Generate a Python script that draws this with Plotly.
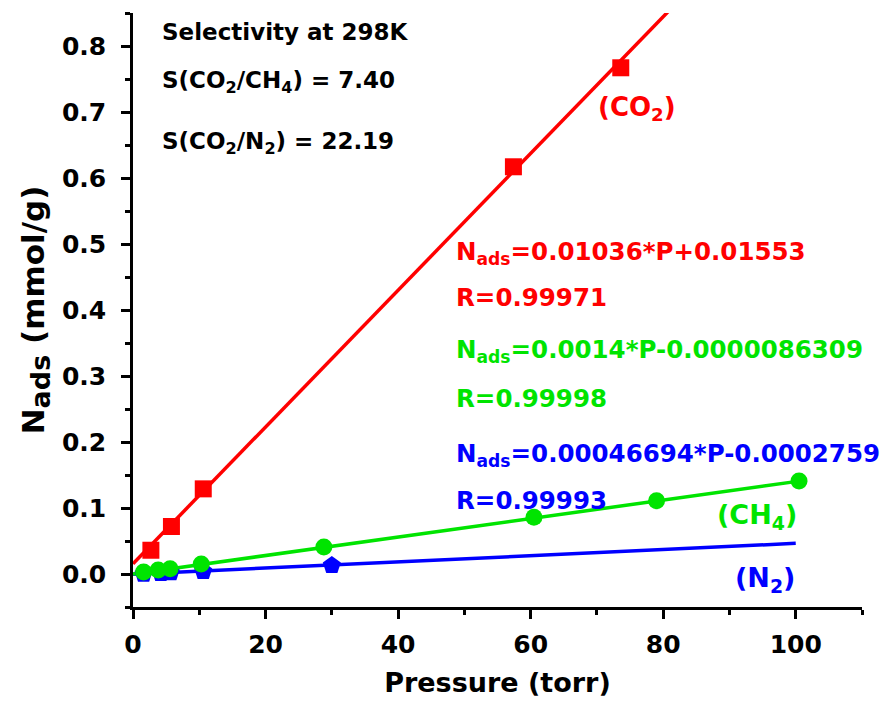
import plotly.graph_objects as go

# Data
co2_p = [2.7, 5.8, 10.6, 57.4, 73.6]
co2_n = [0.036, 0.072, 0.129, 0.617, 0.767]
ch4_p = [1.6, 3.8, 5.6, 10.3, 28.8, 60.5, 79.0, 100.5]
ch4_n = [0.003, 0.006, 0.008, 0.015, 0.041, 0.086, 0.111, 0.141]
n2_p = [1.6, 4.2, 5.7, 10.6, 30.0]
n2_n = [0.000, 0.001, 0.002, 0.004, 0.013]

fit_co2 = (0.01036, 0.01553)
fit_ch4 = (0.0014, -0.0000086309)
fit_n2 = (0.00046694, -0.0002759)

x_ticks = [0, 20, 40, 60, 80, 100]
y_ticks = [0.0, 0.1, 0.2, 0.3, 0.4, 0.5, 0.6, 0.7, 0.8]

RED = "#ff0000"
GREEN = "#00e400"
BLUE = "#0000ff"
FONT = "DejaVu Sans, Liberation Sans, Arial, sans-serif"

fig = go.Figure()

def line(fit, color, xs):
    fig.add_trace(go.Scatter(x=xs, y=[fit[0] * x + fit[1] for x in xs], mode="lines",
                             line=dict(color=color, width=3.5), showlegend=False,
                             hoverinfo="skip", cliponaxis=True))

line(fit_n2, BLUE, [0, 100])
line(fit_ch4, GREEN, [0, 100.5])
line(fit_co2, RED, [0, 100])

fig.add_trace(go.Scatter(x=n2_p, y=n2_n, mode="markers",
                         marker=dict(symbol="pentagon", size=19, color=BLUE), showlegend=False))
fig.add_trace(go.Scatter(x=ch4_p, y=ch4_n, mode="markers",
                         marker=dict(symbol="circle", size=17, color=GREEN), showlegend=False))
fig.add_trace(go.Scatter(x=co2_p, y=co2_n, mode="markers",
                         marker=dict(symbol="square", size=17, color=RED), showlegend=False))

def note(x, y, text, color, size=22):
    fig.add_annotation(x=x, y=y, xref="x", yref="y", text="<b>" + text + "</b>",
                       showarrow=False, xanchor="left", yanchor="middle",
                       font=dict(family=FONT, size=size, color=color))

note(4.0, 0.821, "Selectivity at 298K", "black", 23)
note(4.0, 0.745, "S(CO<sub>2</sub>/CH<sub>4</sub>) = 7.40", "black", 23)
note(4.0, 0.653, "S(CO<sub>2</sub>/N<sub>2</sub>) = 22.19", "black", 23)
note(69.8, 0.706, "(CO<sub>2</sub>)", RED, 26)
note(48.5, 0.487, "N<sub>ads</sub>=0.01036*P+0.01553", RED, 24.5)
note(48.5, 0.419, "R=0.99971", RED, 24.5)
note(48.5, 0.338, "N<sub>ads</sub>=0.0014*P-0.0000086309", GREEN, 24.5)
note(48.5, 0.266, "R=0.99998", GREEN, 24.5)
note(48.5, 0.181, "N<sub>ads</sub>=0.00046694*P-0.0002759", BLUE, 24.5)
note(48.5, 0.112, "R=0.99993", BLUE, 24.5)
note(87.8, 0.087, "(CH<sub>4</sub>)", GREEN, 27)
note(90.6, -0.009, "(N<sub>2</sub>)", BLUE, 27)

axis_common = dict(showline=True, linecolor="black", linewidth=2.5, ticks="outside",
                   ticklen=9, tickwidth=2.5, tickcolor="black", showgrid=False, zeroline=False,
                   mirror=False, tickfont=dict(family=FONT, size=25, color="black"))

fig.update_xaxes(range=[0, 110], tickvals=x_ticks,
                 ticktext=["<b>%d</b>" % v for v in x_ticks],
                 minor=dict(tickvals=[10, 30, 50, 70, 90, 110], ticklen=5, tickwidth=2.5,
                            tickcolor="black", ticks="outside"),
                 title=dict(text="<b>Pressure (torr)</b>", font=dict(family=FONT, size=27, color="black"),
                            standoff=16),
                 ticklabelstandoff=4, **axis_common)
fig.update_yaxes(range=[-0.05, 0.85], tickvals=y_ticks,
                 ticktext=["<b>%.1f</b>" % v for v in y_ticks],
                 minor=dict(tickvals=[-0.05, 0.05, 0.15, 0.25, 0.35, 0.45, 0.55, 0.65, 0.75, 0.85],
                            ticklen=5, tickwidth=2.5, tickcolor="black", ticks="outside"),
                 title=dict(text="<b>N<sub><span style='font-size:27px'>ads</span></sub> (mmol/g)</b>",
                            font=dict(family=FONT, size=31, color="black"),
                            standoff=9),
                 ticklabelstandoff=10, **axis_common)

fig.update_layout(width=884, height=706, margin=dict(l=133, r=22, t=13, b=99),
                  plot_bgcolor="white", paper_bgcolor="white", showlegend=False)

fig.write_html("out.html")
